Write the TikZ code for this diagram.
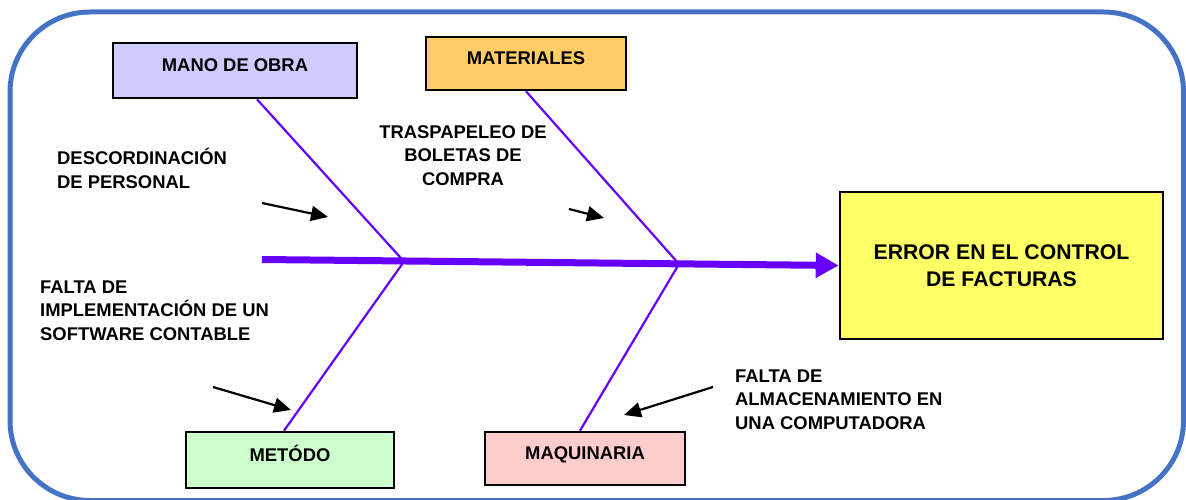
\documentclass[tikz,border=0pt]{standalone}
\usepackage{fontspec}
\setmainfont{Liberation Sans}
\usetikzlibrary{arrows.meta}
\definecolor{frameblue}{HTML}{4472C4}
\definecolor{spinepurple}{HTML}{6600FF}
\definecolor{lavender}{HTML}{CCCCFF}
\definecolor{apricot}{HTML}{FFCC66}
\definecolor{lemon}{HTML}{FFFF66}
\definecolor{mint}{HTML}{CCFFCC}
\definecolor{blush}{HTML}{FFCCCC}

\begin{document}
\begin{tikzpicture}[x=1pt, y=-1pt,
    every node/.style={font=\fontsize{18.4}{23.5}\selectfont\bfseries},
    catbox/.style={draw, line width=2.6pt, minimum height=55pt, text height=13.2pt, text depth=11pt},
    effbox/.style={draw, line width=2.6pt, align=center, minimum width=323pt, minimum height=147pt,
      font=\fontsize{21.2}{27}\selectfont\bfseries},
    cause/.style={inner sep=0pt, anchor=north west, align=left},
    bone/.style={line width=2.2pt, spinepurple},
    pointer/.style={line width=2.2pt, -{Triangle[length=17pt,width=15pt]}}]

    \useasboundingbox (0,0) rectangle (1186,500);
    \draw[frameblue, line width=5pt, rounded corners=80pt] (10,12) rectangle (1183.5,500.5);

    % categories and effect
    \node[catbox, fill=lavender, minimum width=244pt] (mo) at (235,70.5) {MANO DE OBRA};
    \node[catbox, fill=apricot, minimum width=200pt, minimum height=53pt] (mt) at (526,63.5) {MATERIALES};
    \node[catbox, fill=mint, minimum width=208pt, minimum height=56pt] (me) at (290,460) {MET\'ODO};
    \node[catbox, fill=blush, minimum width=200pt, minimum height=53pt] (mq) at (585,458.5) {MAQUINARIA};
    \node[effbox, fill=lemon] (ef) at (1001.5,265.5) {ERROR EN EL CONTROL\\DE FACTURAS};

    % spine
    \coordinate (tail) at (262,259.5);
    \coordinate (j1) at (404,261.5);
    \coordinate (j2) at (679,264);
    \draw[spinepurple, line width=7pt, -{Triangle[length=23pt,width=24pt]}] (tail) -- (ef.west);

    % bones
    \draw[bone] (j1) -- ([xshift=22pt]mo.south);
    \draw[bone] (j2) -- (mt.south);
    \draw[bone] (j1) -- ([xshift=-6pt]me.north);
    \draw[bone] (j2) -- ([xshift=-5pt]mq.north);

    % causes
    \node[cause] (c1) at (57,148) {DESCORDINACI\'ON\\DE PERSONAL};
    \node[cause, anchor=north, align=center] (c2) at (463,125) {TRASPAPELEO DE\\BOLETAS DE\\COMPRA};
    \node[cause] (c3) at (40,280.5) {FALTA DE\\IMPLEMENTACI\'ON DE UN\\SOFTWARE CONTABLE};
    \node[cause] (c4) at (735,369.5) {FALTA DE\\ALMACENAMIENTO EN\\UNA COMPUTADORA};

    \coordinate (p1a) at (262,203); \coordinate (p1b) at (328,217);
    \coordinate (p2a) at (569,209); \coordinate (p2b) at (604,218);
    \coordinate (p3a) at (213,387); \coordinate (p3b) at (291,410);
    \coordinate (p4a) at (713,387); \coordinate (p4b) at (624,415);
    \draw[pointer] (p1a) -- (p1b);
    \draw[pointer] (p2a) -- (p2b);
    \draw[pointer] (p3a) -- (p3b);
    \draw[pointer] (p4a) -- (p4b);

\end{tikzpicture}
\end{document}
